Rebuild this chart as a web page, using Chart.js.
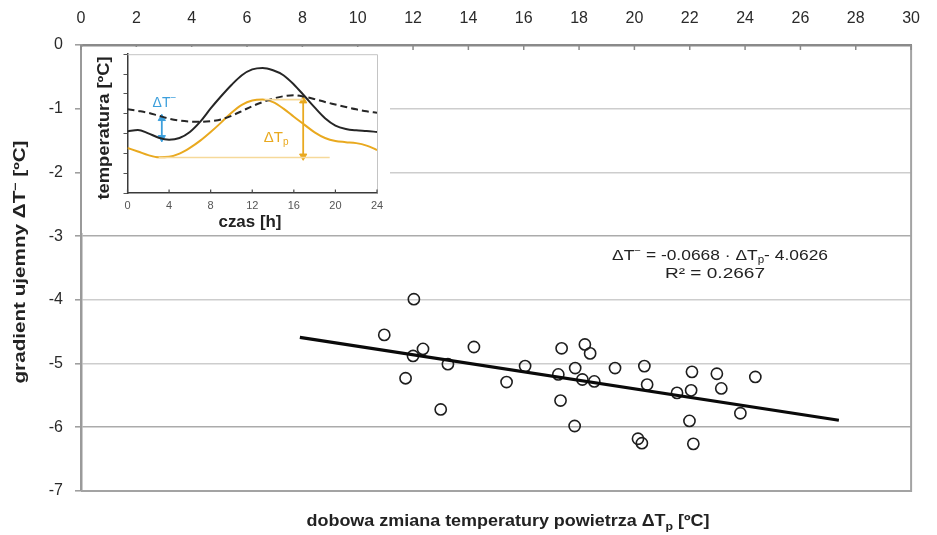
<!DOCTYPE html>
<html><head><meta charset="utf-8">
<script src="https://cdn.jsdelivr.net/npm/chart.js@4/dist/chart.umd.min.js"></script>
<style>
html,body{margin:0;padding:0;background:#fff;}
#wrap{position:relative;width:937px;height:535px;overflow:hidden;}
#main{position:absolute;left:0;top:0;}
#insetBox{position:absolute;left:82px;top:47px;width:308px;height:186px;background:#fff;}
#inset{position:absolute;left:0;top:0;}
</style></head><body>
<div id="wrap">
<canvas id="main" width="937" height="535"></canvas>
<div id="insetBox"><canvas id="inset" width="308" height="186"></canvas></div>
</div>
<script>
// ---- main chart data ----
const dailyAirChange = [10.96,11.73,12.00,12.03,12.36,13.00,13.26,14.20,15.38,16.05,17.25,17.33,17.37,17.84,17.86,18.12,18.21,18.40,18.55,19.30,20.13,20.27,20.36,20.46,21.54,21.99,22.05,22.08,22.13,22.98,23.14,23.83,24.37];
const negGradient    = [-4.55,-5.23,-4.88,-3.99,-4.77,-5.72,-5.01,-4.74,-5.29,-5.04,-5.17,-5.58,-4.76,-5.98,-5.07,-5.25,-4.70,-4.84,-5.28,-5.07,-6.18,-6.25,-5.04,-5.33,-5.46,-5.90,-5.42,-5.13,-6.26,-5.16,-5.39,-5.78,-5.21];
const trendX = [7.91, 27.39];
const trendY = [-4.59, -5.89];
const xTickValues = [0,2,4,6,8,10,12,14,16,18,20,22,24,26,28,30];
const yTickValues = [0,-1,-2,-3,-4,-5,-6,-7];

// ---- inset data ----
const insetHours   = [0,1,2,3,4,5,6,7,8,9,10,11,12,13,14,15,16,17,18,19,20,21,22,23,24];
const surfaceTemp  = [6.21,6.36,6.02,5.58,5.38,5.55,6.16,7.20,8.53,9.76,10.90,11.88,12.47,12.62,12.38,11.88,10.95,9.81,8.63,7.54,6.80,6.46,6.32,6.25,6.16];
const deepTemp     = [8.45,8.28,8.09,7.79,7.50,7.30,7.20,7.18,7.25,7.42,7.79,8.26,8.76,9.17,9.52,9.76,9.86,9.72,9.47,9.18,8.93,8.68,8.44,8.24,8.09];
const airTemp      = [4.54,4.19,3.82,3.60,3.65,3.97,4.55,5.28,6.15,7.10,8.10,8.90,9.33,9.42,9.17,8.51,7.69,6.90,6.12,5.55,5.24,5.13,5.03,4.78,4.34];
const insetXTicks  = [0,4,8,12,16,20,24];
const tpMinLineX   = [3.0, 19.45];
const tpMinLineY   = [3.58, 3.58];
const tpMaxLineX   = [13.2, 16.9];
const tpMaxLineY   = [9.42, 9.42];
const tpArrowX     = [16.9, 16.9];
const tpArrowY     = [9.30, 3.72];
const tnArrowX     = [3.3, 3.3];
const tnArrowY     = [7.52, 5.58];
const tpLabelPos   = [14.3, 5.55];
const tnLabelPos   = [3.55, 9.09];

const SANS = "'Liberation Sans', Arial, Helvetica, sans-serif";
const ORANGE = '#e9a91f';
const ORANGE_LIGHT = '#f6d99a';
const BLUE = '#3c9fdc';

function pts(xs, ys){ return xs.map((x,i)=>({x:x, y:ys[i]})); }

function drawRich(ctx, parts, cx, cy, opt){
  const size = opt.size, weight = opt.weight || 'normal';
  ctx.save();
  ctx.translate(cx, cy);
  if (opt.rotate) ctx.rotate(-Math.PI/2);
  const fontFor = p => `${weight} ${p.sub||p.sup ? Math.round(size*0.68) : size}px ${SANS}`;
  let w = 0;
  parts.forEach(p => { ctx.font = fontFor(p); p.w = ctx.measureText(p.t).width; w += p.w; });
  const sx = opt.width ? opt.width / w : 1;
  ctx.scale(sx, 1);
  let x = -w/2;
  ctx.textBaseline = 'middle';
  ctx.textAlign = 'left';
  ctx.fillStyle = opt.color || '#222';
  parts.forEach(p => {
    ctx.font = fontFor(p);
    const dy = p.sub ? size*0.3 : (p.sup ? -size*0.33 : 0);
    ctx.fillText(p.t, x, dy);
    x += p.w;
  });
  ctx.restore();
}

// ---------------- MAIN CHART ----------------
const mainDecor = {
  id: 'mainDecor',
  beforeDatasetsDraw(chart){
    const {ctx, chartArea:a, scales} = chart;
    ctx.save();
    ctx.strokeStyle = '#a3a3a3';
    ctx.lineWidth = 2;
    ctx.beginPath();
    ctx.moveTo(a.right, a.top); ctx.lineTo(a.right, a.bottom); ctx.lineTo(a.left, a.bottom);
    ctx.stroke();
    ctx.strokeStyle = '#8a8a8a';
    ctx.lineWidth = 1.5;
    scales.x.ticks.forEach(t => {
      const px = scales.x.getPixelForValue(t.value);
      ctx.beginPath(); ctx.moveTo(px, a.top); ctx.lineTo(px, a.top + 5); ctx.stroke();
    });
    ctx.restore();
  },
  afterDraw(chart){
    const ctx = chart.ctx;
    drawRich(ctx, [{t:'gradient ujemny ΔT'},{t:'−', sup:true},{t:' [ºC]'}], 21, 262,
      {size:16, weight:'bold', color:'#222', rotate:true, width:243});
    drawRich(ctx, [{t:'dobowa zmiana temperatury powietrza ΔT'},{t:'p', sub:true},{t:' [ºC]'}], 508, 522,
      {size:16, weight:'bold', color:'#222', width:403});
    drawRich(ctx, [{t:'ΔT'},{t:'−', sup:true},{t:' = -0.0668 · ΔT'},{t:'p', sub:true},{t:'- 4.0626'}], 720, 256,
      {size:15, color:'#222', width:216});
    drawRich(ctx, [{t:'R² = 0.2667'}], 715, 274, {size:15, color:'#222', width:100});
  }
};

new Chart(document.getElementById('main'), {
  data: {
    datasets: [
      { type:'line', data: pts(trendX, trendY), borderColor:'#0a0a0a', borderWidth:3.2,
        pointRadius:0, order:0, tension:0 },
      { type:'scatter', data: pts(dailyAirChange, negGradient), pointRadius:5.6,
        pointBorderWidth:1.6, pointBorderColor:'#1e1e1e', pointBackgroundColor:'rgba(255,255,255,0)',
        order:1 }
    ]
  },
  options: {
    responsive:false, animation:false, devicePixelRatio:1,
    layout:{ padding:{ top:0, right:23, bottom:44, left:0 } },
    plugins:{ legend:{display:false}, tooltip:{enabled:false} },
    scales:{
      x:{
        type:'linear', position:'top', min:0, max:30,
        afterBuildTicks: s => { s.ticks = xTickValues.map(v => ({value:v})); },
        afterFit: s => { s.height = 45; },
        grid:{ display:false, drawTicks:false },
        border:{ color:'#8a8a8a', width:2.5 },
        ticks:{ padding:17, color:'#2a2a2a', font:{ family:SANS, size:16 }, maxRotation:0 }
      },
      y:{
        type:'linear', min:-7, max:0,
        afterBuildTicks: s => { s.ticks = yTickValues.map(v => ({value:v})); },
        afterFit: s => { s.width = 81; },
        grid:{
          color: c => (c.tick && (c.tick.value === -3 || c.tick.value === -6 || c.tick.value === -7)) ? '#ababab' : '#cdcdcd',
          lineWidth: 1.6, drawTicks:true, tickLength:6, tickColor:'#9a9a9a', tickWidth:1.5
        },
        border:{ color:'#9a9a9a', width:2.5 },
        ticks:{ padding:12, color:'#2a2a2a', font:{ family:SANS, size:16 } }
      }
    }
  },
  plugins:[mainDecor]
});

// ---------------- INSET CHART ----------------
const insetDecor = {
  id:'insetDecor',
  beforeDatasetsDraw(chart){
    const {ctx, chartArea:a, scales} = chart;
    ctx.save();
    ctx.strokeStyle = '#c4c4c4';
    ctx.lineWidth = 1;
    ctx.beginPath();
    ctx.moveTo(a.left, a.top+0.5); ctx.lineTo(a.right+0.5, a.top+0.5); ctx.lineTo(a.right+0.5, a.bottom);
    ctx.stroke();
    ctx.strokeStyle = '#444';
    ctx.lineWidth = 1.2;
    scales.x.ticks.forEach(t => {
      const px = scales.x.getPixelForValue(t.value);
      ctx.beginPath(); ctx.moveTo(px, a.bottom); ctx.lineTo(px, a.bottom - 3.5); ctx.stroke();
    });
    ctx.restore();
  },
  afterDraw(chart){
    const {ctx, scales} = chart;
    drawRich(ctx, [{t:'temperatura [ºC]'}], 23, 81, {size:16, weight:'bold', color:'#222', rotate:true, width:143});
    drawRich(ctx, [{t:'czas [h]'}], 168, 176, {size:16, weight:'bold', color:'#222', width:63});
    drawRich(ctx, [{t:'ΔT'},{t:'p', sub:true}],
      scales.x.getPixelForValue(tpLabelPos[0]), scales.y.getPixelForValue(tpLabelPos[1]),
      {size:15, color:ORANGE});
    drawRich(ctx, [{t:'ΔT'},{t:'−', sup:true}],
      scales.x.getPixelForValue(tnLabelPos[0]), scales.y.getPixelForValue(tnLabelPos[1]),
      {size:14, color:BLUE});
  }
};

const arrowSet = (xs, ys, color) => ({
  data: pts(xs, ys), borderColor: color, borderWidth:1.8, tension:0,
  pointStyle:'triangle', pointRadius:4.2, pointRotation:[0,180],
  pointBackgroundColor: color, pointBorderColor: color, pointBorderWidth:1
});
const curveSet = (ys, color, dash) => ({
  data: pts(insetHours, ys), borderColor: color, borderWidth:2, borderDash: dash || [],
  pointRadius:0, cubicInterpolationMode:'monotone'
});

new Chart(document.getElementById('inset'), {
  type:'line',
  data:{
    datasets:[
      { data: pts(tpMinLineX, tpMinLineY), borderColor:ORANGE_LIGHT, borderWidth:1.6, pointRadius:0, tension:0 },
      { data: pts(tpMaxLineX, tpMaxLineY), borderColor:ORANGE_LIGHT, borderWidth:1.6, pointRadius:0, tension:0 },
      curveSet(surfaceTemp, '#262626'),
      curveSet(deepTemp, '#262626', [7,4]),
      curveSet(airTemp, ORANGE),
      arrowSet(tpArrowX, tpArrowY, ORANGE),
      arrowSet(tnArrowX, tnArrowY, BLUE)
    ]
  },
  options:{
    responsive:false, animation:false, devicePixelRatio:1,
    layout:{ padding:{ top:4, right:13, bottom:0, left:0 } },
    plugins:{ legend:{display:false}, tooltip:{enabled:false} },
    scales:{
      x:{
        type:'linear', min:0, max:24,
        afterBuildTicks: s => { s.ticks = insetXTicks.map(v => ({value:v})); },
        afterFit: s => { s.height = 40; },
        grid:{ display:false, drawTicks:false },
        border:{ color:'#3a3a3a', width:1.5 },
        ticks:{ padding:6, color:'#555', font:{ family:SANS, size:11 }, maxRotation:0 }
      },
      y:{
        type:'linear', min:0, max:14,
        ticks:{ stepSize:1, callback: () => '', padding:0 },
        afterFit: s => { s.width = 45.5; },
        grid:{ drawOnChartArea:false, drawTicks:true, tickLength:4, tickColor:'#555', tickWidth:1 },
        border:{ color:'#3a3a3a', width:1.5 }
      }
    }
  },
  plugins:[insetDecor]
});
</script>
</body></html>
